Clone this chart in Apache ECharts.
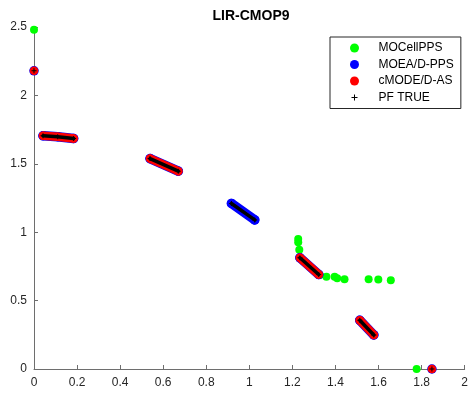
<!DOCTYPE html>
<html>
<head>
<meta charset="utf-8">
<script src="https://cdn.jsdelivr.net/npm/echarts@6/dist/echarts.min.js"></script>
<style>
  html, body { margin: 0; padding: 0; background: #fff; }
  #chart { width: 471px; height: 394px; }
</style>
</head>
<body>
<div id="chart"></div>
<script>
// LIR-CMOP9: obtained fronts of three algorithms against the true Pareto front
const xTicks = [0, 0.2, 0.4, 0.6, 0.8, 1, 1.2, 1.4, 1.6, 1.8, 2];
const yTicks = [0, 0.5, 1, 1.5, 2, 2.5];

// MOCellPPS solutions (scattered points)
const mocellPts = [
  [0, 2.48], [1.227, 0.95], [1.227, 0.926], [1.232, 0.872],
  [1.327, 0.687], [1.358, 0.675], [1.396, 0.675], [1.408, 0.663],
  [1.442, 0.656], [1.554, 0.656], [1.599, 0.655], [1.657, 0.648],
  [1.777, 0]
];

// MOEA/D-PPS solutions, grouped by front segment
const moeadSegs = [
  [[0, 2.18]],
  [[0.042, 1.705], [0.11, 1.698], [0.184, 1.685]],
  [[0.539, 1.538], [0.67, 1.446]],
  [[0.917, 1.21], [1.025, 1.09]],
  [[1.235, 0.813], [1.322, 0.691]],
  [[1.513, 0.356], [1.578, 0.249]],
  [[1.848, 0]]
];

// cMODE/D-AS solutions, grouped by front segment
const cmodeSegs = [
  [[0, 2.18]],
  [[0.042, 1.705], [0.11, 1.698], [0.184, 1.685]],
  [[0.539, 1.538], [0.67, 1.446]],
  [[1.235, 0.813], [1.322, 0.691]],
  [[1.513, 0.356], [1.578, 0.249]],
  [[1.848, 0]]
];

// true Pareto front segments
const pfSegs = [
  [[0, 2.18]],
  [[0.042, 1.705], [0.11, 1.698], [0.184, 1.685]],
  [[0.539, 1.538], [0.67, 1.446]],
  [[0.917, 1.21], [1.025, 1.09]],
  [[1.235, 0.813], [1.322, 0.691]],
  [[1.513, 0.356], [1.578, 0.249]],
  [[1.848, 0]]
];

const seriesNames = ['MOCellPPS', 'MOEA/D-PPS', 'cMODE/D-AS', 'PF TRUE'];
const seriesColors = ['#00ff00', '#0000ff', '#ff0000', '#000000'];

const plusMark = 'path://M2,0h1v2h2v1h-2v2h-1v-2h-2v-1h2z';
const plusIcon = 'path://M0,0L0,0ZM9,9L9,9ZM4,1.5h1v2.5h2.5v1h-2.5v2.5h-1v-2.5h-2.5v-1h2.5z';

function segSeries(segs, name, color, width, z, symbol, symbolSize) {
  return segs.map(seg => ({
    name: name,
    type: 'line',
    data: seg,
    z: z,
    symbol: symbol,
    symbolSize: symbolSize,
    showSymbol: true,
    silent: true,
    itemStyle: { color: color, borderWidth: 0 },
    lineStyle: { color: color, width: width, cap: 'round', join: 'round' },
    emphasis: { disabled: true },
    animation: false
  }));
}

const series = [
  {
    name: seriesNames[0],
    type: 'scatter',
    data: mocellPts,
    z: 2,
    symbol: 'circle',
    symbolSize: 8,
    itemStyle: { color: seriesColors[0], opacity: 1 },
    silent: true,
    animation: false
  },
  ...segSeries(moeadSegs, seriesNames[1], seriesColors[1], 9.5, 3, 'circle', 9.5),
  ...segSeries(cmodeSegs, seriesNames[2], seriesColors[2], 8.5, 4, 'circle', 8.5),
  ...segSeries(pfSegs, seriesNames[3], seriesColors[3], 3.5, 5, plusMark, 5)
];

const axisFont = { fontFamily: 'Liberation Sans, Arial, sans-serif', fontSize: 12, color: '#262626' };

const chart = echarts.init(document.getElementById('chart'), null, { renderer: 'canvas' });
chart.setOption({
  backgroundColor: '#ffffff',
  animation: false,
  title: {
    text: 'LIR-CMOP9',
    left: 251,
    top: 9,
    padding: 0,
    textAlign: 'center',
    textStyle: { fontFamily: 'Liberation Sans, Arial, sans-serif', fontSize: 14, fontWeight: 'bold', color: '#000' }
  },
  legend: {
    orient: 'vertical',
    left: 330,
    top: 37,
    padding: [4, 7, 4, 20],
    itemWidth: 38,
    itemHeight: 9,
    itemGap: 2.5,
    borderColor: '#262626',
    borderWidth: 1,
    backgroundColor: '#fff',
    selectedMode: false,
    textStyle: { fontFamily: 'Liberation Sans, Arial, sans-serif', fontSize: 12, color: '#000', lineHeight: 14 },
    data: [
      { name: seriesNames[0], icon: 'circle' },
      { name: seriesNames[1], icon: 'circle' },
      { name: seriesNames[2], icon: 'circle' },
      { name: seriesNames[3], icon: plusIcon }
    ]
  },
  grid: { left: 34, right: 3, top: 27, bottom: 25, containLabel: false },
  xAxis: {
    type: 'value',
    min: xTicks[0],
    max: xTicks[xTicks.length - 1],
    interval: xTicks[1] - xTicks[0],
    axisLine: { onZero: false, lineStyle: { color: '#6e6e6e', width: 1 } },
    axisTick: { inside: true, length: 4, lineStyle: { color: '#6e6e6e' } },
    axisLabel: Object.assign({ margin: 8 }, axisFont),
    splitLine: { show: false }
  },
  yAxis: {
    type: 'value',
    min: yTicks[0],
    max: yTicks[yTicks.length - 1],
    interval: yTicks[1] - yTicks[0],
    axisLine: { show: true, onZero: false, lineStyle: { color: '#6e6e6e', width: 1 } },
    axisTick: { show: true, inside: true, length: 4, lineStyle: { color: '#6e6e6e' } },
    axisLabel: Object.assign({ margin: 7 }, axisFont),
    splitLine: { show: false }
  },
  series: series
});
</script>
</body>
</html>
